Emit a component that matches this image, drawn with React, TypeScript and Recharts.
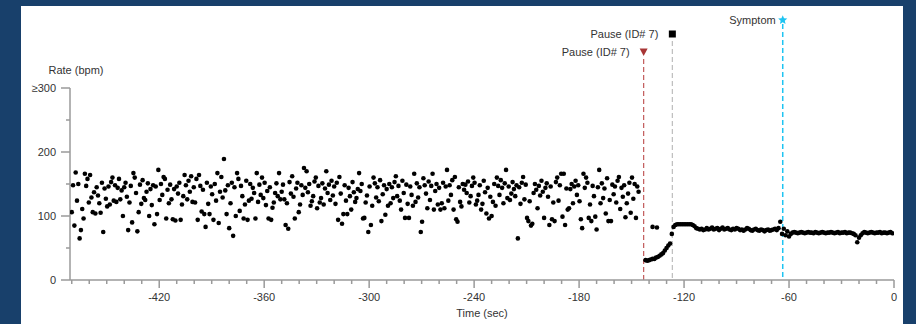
import { ScatterChart, Scatter, XAxis, YAxis, ReferenceLine, Label } from 'recharts';

const FONT = '"Liberation Sans", Arial, sans-serif';
const TEXT = '#333';
const AXIS = '#9a9a9a';

// rate before the pause, one beat every 0.75 s from -470 s
const PRE_START = -470;
const PRE_STEP = 0.75;
const preRates = [
  106, 148, 85, 168, 124, 150, 65, 78, 111, 96, 166, 147, 158, 121, 164, 129, 106, 137, 104, 145,
  132, 120, 105, 152, 75, 143, 127, 115, 146, 118, 153, 160, 124, 148, 122, 144, 158, 126, 140, 100,
  145, 152, 130, 78, 121, 147, 90, 167, 160, 136, 76, 106, 149, 119, 156, 128, 125, 138, 151, 100,
  142, 117, 148, 87, 146, 103, 172, 125, 150, 133, 161, 158, 96, 141, 120, 149, 126, 95, 142, 93,
  146, 135, 152, 94, 118, 131, 164, 148, 126, 155, 138, 162, 122, 145, 121, 158, 94, 164, 147, 107,
  141, 103, 83, 152, 119, 103, 146, 134, 94, 150, 124, 167, 89, 138, 161, 129, 189, 140, 103, 148,
  81, 120, 152, 69, 145, 100, 167, 158, 108, 147, 131, 96, 118, 155, 94, 124, 150, 127, 144, 136,
  96, 167, 122, 149, 133, 160, 128, 152, 117, 139, 96, 145, 94, 113, 121, 136, 151, 131, 167, 126,
  138, 149, 126, 86, 120, 80, 153, 135, 162, 130, 96, 143, 152, 106, 118, 148, 133, 175, 144, 170,
  137, 150, 116, 123, 131, 154, 160, 112, 147, 121, 128, 151, 118, 143, 170, 136, 149, 125, 155, 132,
  146, 119, 152, 94, 161, 135, 88, 103, 148, 124, 103, 144, 131, 110, 153, 137, 122, 128, 142, 167,
  139, 150, 96, 97, 121, 132, 75, 146, 86, 116, 160, 151, 129, 145, 123, 156, 92, 134, 148, 102,
  142, 116, 150, 120, 145, 128, 153, 162, 131, 147, 124, 110, 155, 136, 97, 149, 119, 97, 146, 133,
  116, 166, 122, 151, 129, 145, 75, 91, 159, 148, 135, 112, 154, 125, 147, 166, 110, 139, 150, 118,
  144, 110, 120, 152, 112, 146, 172, 124, 148, 133, 156, 110, 161, 95, 91, 145, 122, 115, 150, 141,
  149, 136, 154, 121, 131, 147, 160, 152, 118, 124, 133, 148, 110, 119, 155, 137, 104, 144, 96, 130,
  100, 122, 150, 116, 160, 147, 133, 156, 144, 120, 151, 172, 128, 146, 125, 135, 153, 142, 131, 148,
  65, 145, 119, 152, 161, 126, 149, 97, 92, 123, 85, 88, 136, 150, 141, 112, 147, 132, 155, 138,
  97, 144, 151, 130, 86, 146, 95, 121, 92, 153, 160, 124, 148, 166, 99, 166, 86, 143, 110, 112,
  142, 150, 120, 146, 155, 133, 148, 123, 95, 81, 166, 144, 160, 152, 97, 118, 92, 147, 131, 99,
  79, 145, 172, 120, 151, 128, 143, 104, 159, 92, 125, 92, 149, 134, 146, 121, 155, 161, 111, 144,
  130, 148, 98, 120, 135, 152, 105, 160, 127, 150, 97, 146, 138,
];

// rate after the pause, one beat per second from -142 s
const POST_START = -142;
const postRates = [
  31, 30, 31, 32, 33, 33, 35, 36, 38, 40, 42, 46, 50, 54, 57,
  72, 83, 86, 87, 87, 87, 87, 87, 87, 87, 87, 87, 86, 84,
  81, 80, 79, 80, 78, 79, 81, 79, 80, 82, 79, 80, 81, 78, 80, 82, 79, 80, 81, 79,
  78, 80, 79, 81, 80, 78, 79, 77, 79, 81, 80, 78, 77, 79, 80, 78, 77, 79, 78, 76,
  78, 79, 77, 78, 79, 80, 78, 81,
  91, 72, 80, 70, 76, 68, 72, 74, 75, 74,
  73, 74, 75, 74, 73, 74, 75, 74, 74, 73, 75, 74, 73, 74, 75, 74, 73, 74, 74, 75,
  74, 73, 74, 75, 73, 74, 74, 75, 73, 74, 74, 73, 72,
  70, 59, 66, 70, 73, 75,
  74, 73, 74, 75, 74, 73, 74, 74, 75, 73, 74, 74, 73, 74, 75, 73,
];

// two isolated beats right after the first pause
const extraTimes = [-138, -135.5];
const extraRates = [83, 82];

// event markers
const eventTimes = [-143.1, -126.7, -63.6];
const eventLabels = ['Pause (ID# 7)', 'Pause (ID# 7)', 'Symptom'];

const xMinorTicks = Array.from({ length: 48 }, (_, i) => -470 + i * 10);
const xLabelTicks = [-420, -360, -300, -240, -180, -120, -60, 0];
const yTicks = [0, 50, 100, 150, 200, 250, 300];
const yTickLabels: Record<number, string> = { 0: '0', 100: '100', 200: '200', 300: '≥300' };

const preData = preRates.map((rate, i) => ({ t: PRE_START + i * PRE_STEP, rate }));
const postData = postRates.map((rate, i) => ({ t: POST_START + i, rate }));
const extraData = extraTimes.map((t, i) => ({ t, rate: extraRates[i] }));

const Dot = (props: any) => <circle cx={props.cx} cy={props.cy} r={2.3} fill="#000" />;

const XTick = ({ x, y, payload }: any) => {
  const major = xLabelTicks.includes(payload.value);
  return (
    <g>
      <line x1={x} y1={y} x2={x} y2={y + (major ? 8 : 4)} stroke={AXIS} strokeWidth={1.5} />
      {major && (
        <text x={x} y={y + 21} textAnchor="middle" fontSize={11} fill={TEXT} fontFamily={FONT}>
          {payload.value}
        </text>
      )}
    </g>
  );
};

const YTick = ({ x, y, payload }: any) => {
  const label = yTickLabels[payload.value];
  return (
    <g>
      <line x1={x} y1={y} x2={x - (label ? 9 : 4)} y2={y} stroke={AXIS} strokeWidth={1.5} />
      {label && (
        <text x={x - 14} y={y + 4} textAnchor="end" fontSize={11} fill={TEXT} fontFamily={FONT}>
          {label}
        </text>
      )}
    </g>
  );
};

const star = (cx: number, cy: number, r: number) => {
  const pts: string[] = [];
  for (let i = 0; i < 10; i++) {
    const rr = i % 2 === 0 ? r : r * 0.45;
    const a = -Math.PI / 2 + (i * Math.PI) / 5;
    pts.push(`${cx + rr * Math.cos(a)},${cy + rr * Math.sin(a)}`);
  }
  return pts.join(' ');
};

// vertical dashed line with a marker and label sitting above the plot
const eventShape = (kind: 'tri' | 'square' | 'star', label: string, lineColor: string, rise: number) =>
  (props: any) => {
    const x = props.x1;
    const top = Math.min(props.y1, props.y2);
    const bottom = Math.max(props.y1, props.y2);
    const my = top - rise;
    let marker;
    let gap = 14;
    let lineTop = my + 7;
    if (kind === 'tri') {
      marker = <polygon points={`${x - 4},${my - 3.5} ${x + 4},${my - 3.5} ${x},${my + 4}`} fill="#a83636" />;
    } else if (kind === 'square') {
      marker = <rect x={x - 3.5} y={my - 3.5} width={7} height={7} fill="#000" />;
    } else {
      marker = <polygon points={star(x, my, 4.8)} fill="#1ec4f2" />;
      gap = 7;
      lineTop = my + 4;
    }
    return (
      <g>
        <line x1={x} y1={lineTop} x2={x} y2={bottom} stroke={lineColor} strokeWidth={kind === 'star' ? 1.5 : 1.2} strokeDasharray="5 3" />
        {marker}
        <text x={x - gap} y={my + 4} textAnchor="end" fontSize={11} fill={TEXT} fontFamily={FONT}>
          {label}
        </text>
      </g>
    );
  };

export default function App() {
  return (
    <div style={{ position: 'absolute', left: 0, top: 0, width: 916, height: 324, background: '#18406b', overflow: 'hidden' }}>
      <div style={{ position: 'absolute', left: 21, top: 6, width: 882, height: 318, background: '#fff' }} />
      <div style={{ position: 'absolute', left: 0, top: 0 }}>
        <ScatterChart width={916} height={324} margin={{ top: 88, right: 22, bottom: 0, left: 0 }}>
          <XAxis
            type="number"
            dataKey="t"
            domain={[-471, 0]}
            allowDataOverflow
            ticks={xMinorTicks}
            interval={0}
            tick={<XTick />}
            tickLine={false}
            tickSize={0}
            tickMargin={0}
            height={44}
            axisLine={{ stroke: AXIS, strokeWidth: 1.5 }}
          >
            <Label
              content={({ viewBox }: any) => (
                <text x={viewBox.x + viewBox.width / 2} y={viewBox.y + 37} textAnchor="middle" fontSize={11} fill={TEXT} fontFamily={FONT}>
                  Time (sec)
                </text>
              )}
            />
          </XAxis>
          <YAxis
            type="number"
            dataKey="rate"
            domain={[0, 300]}
            allowDataOverflow
            ticks={yTicks}
            interval={0}
            tick={<YTick />}
            tickLine={false}
            tickSize={0}
            tickMargin={0}
            width={70}
            axisLine={{ stroke: AXIS, strokeWidth: 1.5 }}
          >
            <Label
              content={({ viewBox }: any) => (
                <text x={viewBox.x + viewBox.width + 6} y={viewBox.y - 14} textAnchor="middle" fontSize={11} fill={TEXT} fontFamily={FONT}>
                  Rate (bpm)
                </text>
              )}
            />
          </YAxis>
          <ReferenceLine x={eventTimes[0]} ifOverflow="visible" shape={eventShape('tri', eventLabels[0], '#c25a5a', 36)} />
          <ReferenceLine x={eventTimes[1]} ifOverflow="visible" shape={eventShape('square', eventLabels[1], '#bdbdbd', 54)} />
          <ReferenceLine x={eventTimes[2]} ifOverflow="visible" shape={eventShape('star', eventLabels[2], '#1ec4f2', 68)} />
          <Scatter data={preData} shape={Dot} isAnimationActive={false} />
          <Scatter data={postData} shape={Dot} isAnimationActive={false} />
          <Scatter data={extraData} shape={Dot} isAnimationActive={false} />
        </ScatterChart>
      </div>
    </div>
  );
}
